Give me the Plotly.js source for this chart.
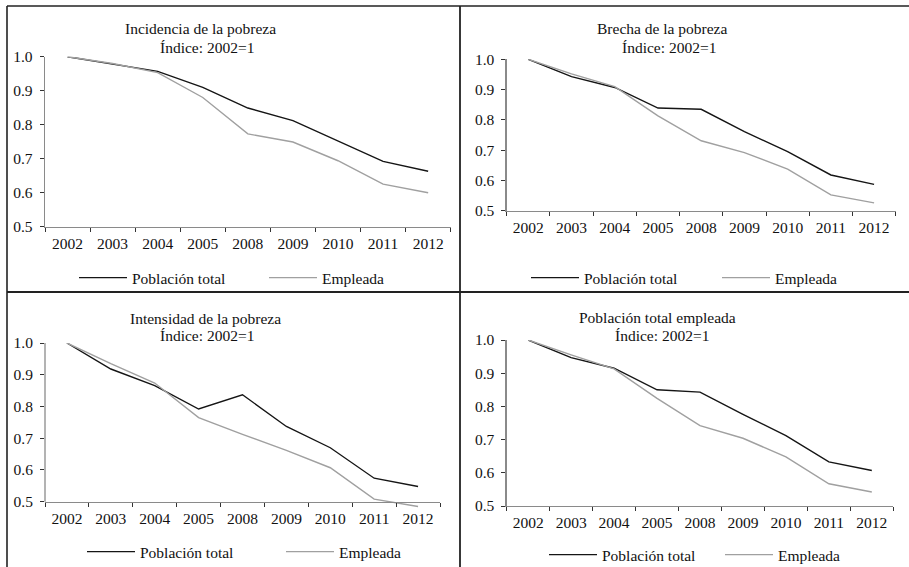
<!DOCTYPE html>
<html>
<head>
<meta charset="utf-8">
<script src="https://cdn.plot.ly/plotly-3.0.1.min.js"></script>
<style>html,body{margin:0;padding:0;background:#fff;}#chart{width:909px;height:567px;}</style>
</head>
<body>
<div id="chart"></div>
<script>
// ---- data ----
var years = ['2002','2003','2004','2005','2008','2009','2010','2011','2012'];
var seriesNames = ['Población total', 'Empleada'];

var titles = ['Incidencia de la pobreza', 'Brecha de la pobreza', 'Intensidad de la pobreza', 'Población total empleada'];
var subtitle = 'Índice: 2002=1';

var incidenciaTotal    = [1.000, 0.978, 0.957, 0.910, 0.849, 0.812, 0.753, 0.692, 0.663];
var incidenciaEmpleada = [1.000, 0.980, 0.953, 0.880, 0.773, 0.749, 0.694, 0.625, 0.600];

var brechaTotal    = [1.000, 0.943, 0.907, 0.839, 0.835, 0.761, 0.695, 0.618, 0.587];
var brechaEmpleada = [1.000, 0.952, 0.910, 0.813, 0.731, 0.692, 0.637, 0.552, 0.526];

var intensidadTotal    = [1.000, 0.918, 0.866, 0.792, 0.837, 0.737, 0.670, 0.574, 0.548];
var intensidadEmpleada = [1.000, 0.935, 0.874, 0.765, 0.712, 0.662, 0.607, 0.508, 0.485];

var empleadaTotal    = [1.000, 0.947, 0.915, 0.850, 0.843, 0.776, 0.712, 0.633, 0.607];
var empleadaEmpleada = [1.000, 0.955, 0.913, 0.824, 0.742, 0.704, 0.648, 0.567, 0.542];

var yTicks = [0.5, 0.6, 0.7, 0.8, 0.9, 1.0];
var yTickText = ['0.5', '0.6', '0.7', '0.8', '0.9', '1.0'];

// ---- styling ----
var FONT = 'Liberation Serif';
var FS = 15.5;
var W = 909, H = 567;
function fx(px){ return px / W; }
function fy(py){ return 1 - py / H; }

var panelData = [
  [incidenciaTotal, incidenciaEmpleada],
  [brechaTotal, brechaEmpleada],
  [intensidadTotal, intensidadEmpleada],
  [empleadaTotal, empleadaEmpleada]
];
// plot areas in px: [left, right, top(1.0), bottom(0.5)]
var boxes = [
  [45, 450.7, 56.7, 226.7],
  [506.7, 895.7, 59.3, 210.7],
  [45, 440, 343, 501.7],
  [506.7, 893.3, 340, 506]
];
var yMin = [0.5, 0.5, 0.475, 0.5];
// legend: [start of first line px, y px, offset between entries px]
var legendPos = [[80, 278, 190], [532, 278, 191], [88, 552, 199], [550, 555, 176]];
var ITEMW = 48;
var titlePos = [[200, 28, 207, 47], [662, 29, 669, 47], [205, 318, 207, 335], [657, 317, 662, 335]];

var colors = ['#151515', '#a0a0a0'];
var traces = [];
var layout = {
  width: W, height: H,
  margin: {l: 0, r: 0, t: 0, b: 0, autoexpand: false},
  paper_bgcolor: '#fff', plot_bgcolor: 'rgba(0,0,0,0)',
  font: {family: FONT, size: FS, color: '#111'},
  showlegend: true,
  annotations: [],
  shapes: []
};

for (var p = 0; p < 4; p++) {
  var sfx = p === 0 ? '' : String(p + 1);
  var xa = 'x' + sfx, ya = 'y' + sfx;
  var legName = p === 0 ? 'legend' : 'legend' + (p + 1);
  for (var s = 0; s < 2; s++) {
    traces.push({
      type: 'scatter', mode: 'lines',
      x: years, y: panelData[p][s],
      name: seriesNames[s],
      xaxis: xa, yaxis: ya, legend: legName,
      line: {color: colors[s], width: 1.4},
      hoverinfo: 'x+y'
    });
  }
  var b = boxes[p];
  var pxPerUnit = (b[3] - b[2]) / 0.5;
  var bottomPx = b[2] + (1.0 - yMin[p]) * pxPerUnit;
  var xaxisObj = {
    type: 'category',
    domain: [fx(b[0]), fx(b[1])],
    anchor: ya,
    range: [-0.5, 8.5],
    tickson: 'boundaries',
    tickangle: 0,
    ticks: 'outside', ticklen: 4, tickwidth: 1, tickcolor: '#333',
    showline: true, linecolor: '#8a8a8a', linewidth: 1.3,
    showgrid: false, zeroline: false,
    tickfont: {family: FONT, size: FS, color: '#111'},
    ticklabelstandoff: 2,
    automargin: false,
    fixedrange: true
  };
  if (yMin[p] < 0.5) {
    xaxisObj.anchor = 'free';
    xaxisObj.position = fy(b[3]);
  }
  var yaxisObj = {
    domain: [fy(bottomPx), fy(b[2])],
    anchor: xa,
    range: [yMin[p], 1.0],
    tickmode: 'array', tickvals: yTicks, ticktext: yTickText,
    ticks: 'outside', ticklen: 4, tickwidth: 1, tickcolor: '#333',
    showline: yMin[p] >= 0.5, linecolor: '#8a8a8a', linewidth: 1.3,
    showgrid: false, zeroline: false,
    tickfont: {family: FONT, size: FS, color: '#111'},
    ticklabelstandoff: 4,
    automargin: false,
    fixedrange: true
  };
  layout['xaxis' + sfx] = xaxisObj;
  layout['yaxis' + sfx] = yaxisObj;
  if (yMin[p] < 0.5) {
    layout.shapes.push({type: 'line', xref: xa + ' domain', yref: ya, x0: 0, x1: 0, y0: 0.5, y1: 1.0,
      line: {color: '#8a8a8a', width: 1.3}});
  }
  var lp = legendPos[p];
  layout[legName] = {
    orientation: 'h',
    x: fx(lp[0] - 6), y: fy(lp[1]),
    xanchor: 'left', yanchor: 'middle',
    entrywidth: lp[2] - (ITEMW + 15), entrywidthmode: 'pixels',
    itemwidth: ITEMW,
    bgcolor: 'rgba(0,0,0,0)', borderwidth: 0,
    font: {family: FONT, size: FS, color: '#111'},
    tracegroupgap: 0
  };
  var tp = titlePos[p];
  layout.annotations.push({xref: 'paper', yref: 'paper', x: fx(tp[0]), y: fy(tp[1]), xanchor: 'center', yanchor: 'middle',
    text: titles[p], showarrow: false, font: {family: FONT, size: FS, color: '#111'}});
  layout.annotations.push({xref: 'paper', yref: 'paper', x: fx(tp[2]), y: fy(tp[3]), xanchor: 'center', yanchor: 'middle',
    text: subtitle, showarrow: false, font: {family: FONT, size: FS, color: '#111'}});
}

// panel frame lines
var frameColor = '#222';
layout.shapes.push({type: 'line', xref: 'paper', yref: 'paper', x0: fx(7), x1: 1, y0: fy(6), y1: fy(6), line: {color: frameColor, width: 1.6}});
layout.shapes.push({type: 'line', xref: 'paper', yref: 'paper', x0: fx(7), x1: fx(7), y0: fy(6), y1: 0, line: {color: frameColor, width: 1.6}});
layout.shapes.push({type: 'line', xref: 'paper', yref: 'paper', x0: fx(460), x1: fx(460), y0: fy(6), y1: 0, line: {color: frameColor, width: 1.8}});
layout.shapes.push({type: 'line', xref: 'paper', yref: 'paper', x0: fx(7), x1: 1, y0: fy(292), y1: fy(292), line: {color: frameColor, width: 1.8}});

Plotly.newPlot('chart', traces, layout, {staticPlot: true, displayModeBar: false});
</script>
</body>
</html>
